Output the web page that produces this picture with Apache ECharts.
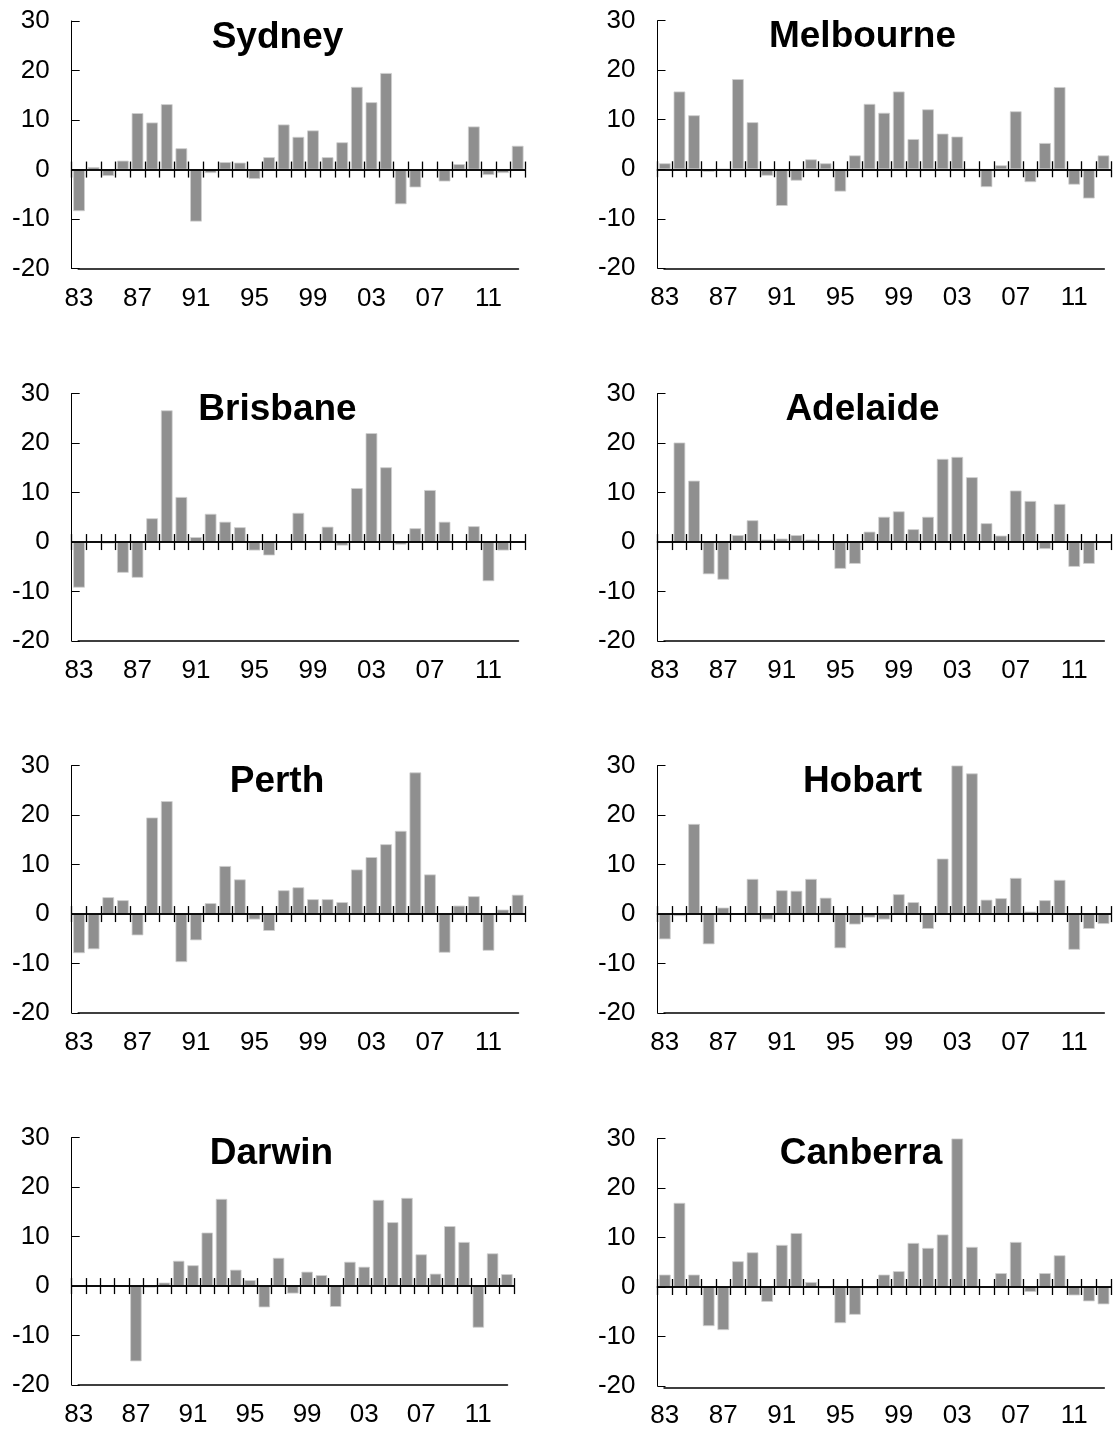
<!DOCTYPE html>
<html><head><meta charset="utf-8">
<script src="https://cdn.jsdelivr.net/npm/echarts@6/dist/echarts.min.js"></script>
<style>html,body{margin:0;padding:0;background:#fff}#c{width:1114px;height:1429px}</style>
</head><body><div id="c"></div>
<script>
const years = [];
for (let y = 1983; y <= 2013; y++) years.push(String(y));

const sydney    = [-8.4, 0.5, -1.3, 1.8, 11.4, 9.5, 13.2, 4.3, -10.5, -0.7, 1.5, 1.4, -1.9, 2.5, 9.1, 6.6, 7.9, 2.5, 5.5, 16.7, 13.6, 19.5, -7.0, -3.6, 0, -2.4, 1.1, 8.7, -1.1, -0.7, 4.8];
const melbourne = [1.2, 15.7, 10.9, -0.5, 0, 18.2, 9.5, -1.3, -7.4, -2.3, 2.0, 1.2, -4.5, 2.8, 13.2, 11.4, 15.7, 6.1, 12.1, 7.2, 6.6, 0, -3.6, 0.8, 11.7, -2.6, 5.3, 16.6, -3.1, -5.9, 2.8];
const brisbane  = [-9.2, 0.2, -0.3, -6.2, -7.2, 4.8, 26.6, 9.1, 1.0, 5.7, 4.1, 3.0, -1.7, -2.7, 0, 5.9, 0, 3.1, -0.7, 10.9, 22.0, 15.1, -0.5, 2.8, 10.5, 4.1, 0, 3.2, -7.9, -1.7, 0];
const adelaide  = [-0.2, 20.1, 12.4, -6.5, -7.6, 1.4, 4.4, 0.5, 0.7, 1.4, 0.5, 0.2, -5.4, -4.4, 2.1, 5.1, 6.2, 2.6, 5.1, 16.8, 17.2, 13.1, 3.8, 1.3, 10.4, 8.3, -1.4, 7.7, -5.0, -4.4, -0.2];
const perth     = [-7.9, -7.1, 3.4, 2.8, -4.3, 19.5, 22.8, -9.7, -5.3, 2.2, 9.7, 7.0, -1.1, -3.4, 4.8, 5.4, 3.0, 3.0, 2.4, 9.0, 11.5, 14.1, 16.8, 28.6, 8.0, -7.8, 1.7, 3.6, -7.4, 0.9, 3.9];
const hobart    = [-5.1, -0.4, 18.2, -6.1, 1.3, 0.1, 7.1, -1.1, 4.8, 4.7, 7.1, 3.3, -6.9, -2.1, -0.7, -1.1, 4.0, 2.4, -3.0, 11.2, 30, 28.4, 2.9, 3.2, 7.3, 0.5, 2.8, 6.9, -7.2, -3.0, -2.0];
const darwin    = [0, 0, 0, 0, -15.2, -0.3, 0.7, 5.1, 4.2, 10.8, 17.6, 3.3, 1.2, -4.3, 5.7, -1.5, 2.9, 2.2, -4.2, 4.9, 3.9, 17.4, 12.9, 17.8, 6.4, 2.5, 12.1, 8.9, -8.4, 6.6, 2.4];
const canberra  = [2.5, 17.0, 2.5, -7.9, -8.7, 5.2, 7.0, -3.0, 8.5, 10.9, 1.0, -0.3, -7.3, -5.6, -0.3, 2.5, 3.2, 8.9, 7.9, 10.6, 30, 8.1, 0, 2.8, 9.1, -1.0, 2.8, 6.4, -1.7, -2.9, -3.5];

const yTicks = { min: -20, max: 30, interval: 10 };

// layout (pixels)
const panels = [
  { name: 'Sydney',    data: sydney,    left: 71.7,  top: 21,     width: 453.3, height: 247.6, tx: 277.5, ty: 37.5 },
  { name: 'Melbourne', data: melbourne, left: 657.5, top: 20.7,   width: 453.3, height: 247.6, tx: 862.5, ty: 37 },
  { name: 'Brisbane',  data: brisbane,  left: 71.7,  top: 393.5,  width: 453.3, height: 247.6, tx: 277.5, ty: 409.5 },
  { name: 'Adelaide',  data: adelaide,  left: 657.5, top: 393.5,  width: 453.3, height: 247.6, tx: 862.5, ty: 409.5 },
  { name: 'Perth',     data: perth,     left: 71.7,  top: 765.5,  width: 453.3, height: 247.6, tx: 277,   ty: 781.5 },
  { name: 'Hobart',    data: hobart,    left: 657.5, top: 765.5,  width: 453.3, height: 247.6, tx: 862.5, ty: 781.5 },
  { name: 'Darwin',    data: darwin,    left: 71.7,  top: 1137.5, width: 442.3, height: 247.6, tx: 271.5, ty: 1153.5 },
  { name: 'Canberra',  data: canberra,  left: 657.5, top: 1138.5, width: 453.3, height: 249.5, tx: 861,   ty: 1153.5 }
];

const FONT = 'Liberation Sans, Arial, Helvetica, sans-serif';
const grid = [], xAxis = [], yAxis = [], series = [], graphic = [];

panels.forEach((p) => {
  const g0 = grid.length;
  grid.push({ left: p.left, top: p.top, width: p.width, height: p.height });
  grid.push({ left: p.left + 6.5, top: p.top, width: p.width - 13, height: p.height });
  const y0 = yAxis.length;
  yAxis.push({
    gridIndex: g0, type: 'value', min: yTicks.min, max: yTicks.max, interval: yTicks.interval,
    axisLine: { show: true, lineStyle: { color: '#000', width: 1 } },
    axisTick: { show: true, inside: true, length: 8, lineStyle: { color: '#000', width: 1 } },
    axisLabel: { color: '#000', fontSize: 26, fontFamily: FONT, margin: 22 },
    splitLine: { show: false }
  });
  yAxis.push({ gridIndex: g0 + 1, type: 'value', min: yTicks.min, max: yTicks.max, show: false });

  const x0 = xAxis.length;
  const zeroAxis = (pos) => ({
    gridIndex: g0, type: 'category', data: years, position: pos, z: 10,
    axisLine: { show: true, onZero: true, onZeroAxisIndex: y0, lineStyle: { color: '#000', width: 1.5 } },
    axisTick: { show: true, inside: true, length: 8, interval: 0, lineStyle: { color: '#000', width: 1.3 } },
    axisLabel: { show: false },
    splitLine: { show: false }
  });
  xAxis.push(zeroAxis('bottom'));
  xAxis.push(zeroAxis('top'));
  xAxis.push({
    gridIndex: g0, type: 'category', data: years, position: 'bottom',
    axisLine: { show: false, onZero: false },
    axisTick: { show: false },
    axisLabel: { interval: 3, color: '#000', fontSize: 26, fontFamily: FONT, margin: 17,
                 formatter: v => v.slice(2) },
    splitLine: { show: false }
  });
  xAxis.push({
    gridIndex: g0 + 1, type: 'category', data: years, position: 'bottom',
    axisLine: { show: true, onZero: false, lineStyle: { color: '#000', width: 1.5 } },
    axisTick: { show: false }, axisLabel: { show: false }, splitLine: { show: false }
  });

  series.push({
    type: 'bar', name: p.name, xAxisIndex: x0, yAxisIndex: y0, data: p.data,
    barCategoryGap: '20%', z: 2,
    itemStyle: { color: '#8f8f8f', borderColor: '#cfcfcf', borderWidth: 0.8 },
    emphasis: { disabled: true }
  });

  graphic.push({
    type: 'text', x: p.tx, y: p.ty, z: 20,
    style: { text: p.name, fill: '#000', font: 'bold 37px ' + FONT, align: 'center', verticalAlign: 'middle' }
  });
});

const chart = echarts.init(document.getElementById('c'), null, { renderer: 'canvas' });
chart.setOption({
  backgroundColor: '#fff',
  animation: false,
  grid, xAxis, yAxis, series, graphic
});
</script>
</body></html>
